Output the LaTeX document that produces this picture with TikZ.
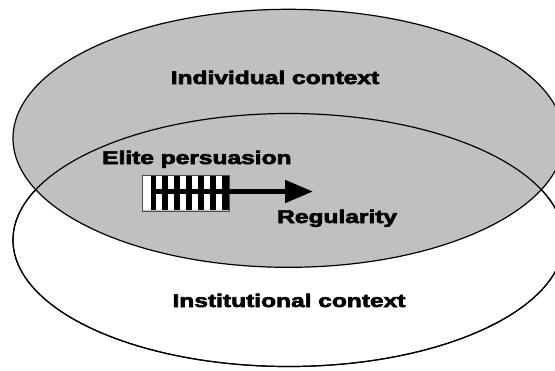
\documentclass[tikz,border=0pt]{standalone}
\usepackage{fontspec}
\newfontfamily\heavyfont[FakeBold=3]{Liberation Sans Bold}
\usetikzlibrary{arrows.meta}
\definecolor{shade}{RGB}{192,192,192}
\tikzset{
  lbl/.style={font=\heavyfont\fontsize{18.5}{22}\selectfont, inner sep=0pt, text=black},
  oval/.style={draw=black, line width=1.2bp},
  stripebox/.style={draw=black!70, line width=1bp, minimum width=87bp, minimum height=36bp, inner sep=0pt, anchor=north west},
  flow/.style={line width=5bp, -{Triangle[length=28bp,width=22bp]}}
}
\newcommand{\widetext}[1]{\scalebox{1.33}[1]{#1}}
\begin{document}
\begin{tikzpicture}[x=1bp,y=-1bp]
\useasboundingbox (0,0) rectangle (555,370);
\clip (0,0) rectangle (555,370);
% ellipses
\draw[oval, fill=white] (288.5,240) ellipse [x radius=275.5bp, y radius=126.5bp];
\draw[oval, fill=shade] (288.5,138.3) ellipse [x radius=275.5bp, y radius=129bp];
\draw[oval] (288.5,240) ellipse [x radius=275.5bp, y radius=126.5bp];
% labels
\node[lbl, anchor=base] (ind) at (275,84) {\widetext{Individual context}};
\node[lbl, anchor=base] (inst) at (289,307) {\widetext{Institutional context}};
\node[lbl, anchor=base west] (elite) at (102,164) {\widetext{Elite persuasion}};
\node[lbl, anchor=base west] (reg) at (277,223) {\widetext{Regularity}};
% striped box
\fill[black] (142,175) rectangle (229,210);
\fill[white] (143,175) rectangle (151.3,210);
\foreach \k in {1,...,6} \fill[white] ({144+11.95*\k},175) rectangle ({150.4+11.95*\k},210);
\node[stripebox] (box) at (142,174.5) {};
% arrow
\coordinate (start) at (156,191.5);
\coordinate (tip) at (313,191.5);
\draw[flow] (start) -- (tip);
\end{tikzpicture}
\end{document}
